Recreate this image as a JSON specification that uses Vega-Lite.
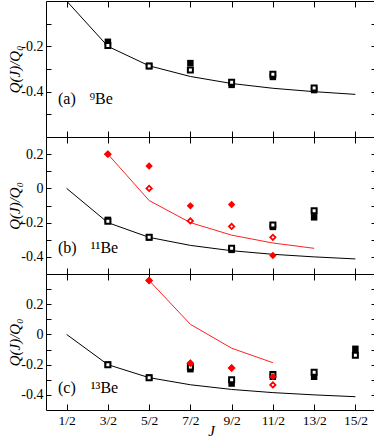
{
  "$schema": "https://vega.github.io/schema/vega-lite/v6.json",
  "padding": {"left": 7, "top": 0, "right": 1, "bottom": 0},
  "spacing": 0,
  "bounds": "flush",
  "background": "white",
  "config": {
    "font": "Liberation Serif",
    "view": {"stroke": "black", "strokeWidth": 1},
    "axis": {"grid": false, "domain": false, "labelFont": "Liberation Serif", "titleFont": "Liberation Serif", "labelColor": "black", "titleColor": "black", "tickColor": "black", "tickWidth": 1, "titleFontWeight": "normal", "minExtent": 0}
  },
  "datasets": {
    "lines": [
      {"panel": "a", "s": "k", "J": 0.5, "Q": 0.0},
      {"panel": "a", "s": "k", "J": 1.5, "Q": -0.2},
      {"panel": "a", "s": "k", "J": 2.5, "Q": -0.286},
      {"panel": "a", "s": "k", "J": 3.5, "Q": -0.333},
      {"panel": "a", "s": "k", "J": 4.5, "Q": -0.364},
      {"panel": "a", "s": "k", "J": 5.5, "Q": -0.385},
      {"panel": "a", "s": "k", "J": 6.5, "Q": -0.4},
      {"panel": "a", "s": "k", "J": 7.5, "Q": -0.412},
      {"panel": "b", "s": "k", "J": 0.5, "Q": 0.0},
      {"panel": "b", "s": "k", "J": 1.5, "Q": -0.2},
      {"panel": "b", "s": "k", "J": 2.5, "Q": -0.286},
      {"panel": "b", "s": "k", "J": 3.5, "Q": -0.333},
      {"panel": "b", "s": "k", "J": 4.5, "Q": -0.364},
      {"panel": "b", "s": "k", "J": 5.5, "Q": -0.385},
      {"panel": "b", "s": "k", "J": 6.5, "Q": -0.4},
      {"panel": "b", "s": "k", "J": 7.5, "Q": -0.412},
      {"panel": "c", "s": "k", "J": 0.5, "Q": 0.0},
      {"panel": "c", "s": "k", "J": 1.5, "Q": -0.2},
      {"panel": "c", "s": "k", "J": 2.5, "Q": -0.286},
      {"panel": "c", "s": "k", "J": 3.5, "Q": -0.333},
      {"panel": "c", "s": "k", "J": 4.5, "Q": -0.364},
      {"panel": "c", "s": "k", "J": 5.5, "Q": -0.385},
      {"panel": "c", "s": "k", "J": 6.5, "Q": -0.4},
      {"panel": "c", "s": "k", "J": 7.5, "Q": -0.412},
      {"panel": "b", "s": "r", "J": 1.5, "Q": 0.2},
      {"panel": "b", "s": "r", "J": 2.5, "Q": -0.071},
      {"panel": "b", "s": "r", "J": 3.5, "Q": -0.2},
      {"panel": "b", "s": "r", "J": 4.5, "Q": -0.273},
      {"panel": "b", "s": "r", "J": 5.5, "Q": -0.319},
      {"panel": "b", "s": "r", "J": 6.5, "Q": -0.35},
      {"panel": "c", "s": "r", "J": 2.5, "Q": 0.357},
      {"panel": "c", "s": "r", "J": 3.5, "Q": 0.067},
      {"panel": "c", "s": "r", "J": 4.5, "Q": -0.091},
      {"panel": "c", "s": "r", "J": 5.5, "Q": -0.187}
    ],
    "pts": [
      {"panel": "a", "s": "fsq", "J": 1.5, "Q": -0.18},
      {"panel": "a", "s": "fsq", "J": 2.5, "Q": -0.287},
      {"panel": "a", "s": "fsq", "J": 3.5, "Q": -0.274},
      {"panel": "a", "s": "fsq", "J": 4.5, "Q": -0.37},
      {"panel": "a", "s": "fsq", "J": 5.5, "Q": -0.335},
      {"panel": "a", "s": "fsq", "J": 6.5, "Q": -0.393},
      {"panel": "a", "s": "osq", "J": 1.5, "Q": -0.196},
      {"panel": "a", "s": "osq", "J": 2.5, "Q": -0.287},
      {"panel": "a", "s": "osq", "J": 3.5, "Q": -0.304},
      {"panel": "a", "s": "osq", "J": 4.5, "Q": -0.358},
      {"panel": "a", "s": "osq", "J": 5.5, "Q": -0.323},
      {"panel": "a", "s": "osq", "J": 6.5, "Q": -0.384},
      {"panel": "b", "s": "fsq", "J": 1.5, "Q": -0.184},
      {"panel": "b", "s": "fsq", "J": 2.5, "Q": -0.286},
      {"panel": "b", "s": "fsq", "J": 4.5, "Q": -0.359},
      {"panel": "b", "s": "fsq", "J": 5.5, "Q": -0.225},
      {"panel": "b", "s": "fsq", "J": 6.5, "Q": -0.169},
      {"panel": "b", "s": "osq", "J": 1.5, "Q": -0.192},
      {"panel": "b", "s": "osq", "J": 2.5, "Q": -0.286},
      {"panel": "b", "s": "osq", "J": 4.5, "Q": -0.349},
      {"panel": "b", "s": "osq", "J": 5.5, "Q": -0.214},
      {"panel": "b", "s": "osq", "J": 6.5, "Q": -0.131},
      {"panel": "b", "s": "odi", "J": 1.5, "Q": 0.2},
      {"panel": "b", "s": "odi", "J": 2.5, "Q": 0.0},
      {"panel": "b", "s": "odi", "J": 3.5, "Q": -0.19},
      {"panel": "b", "s": "odi", "J": 4.5, "Q": -0.222},
      {"panel": "b", "s": "odi", "J": 5.5, "Q": -0.286},
      {"panel": "b", "s": "fdi", "J": 1.5, "Q": 0.2},
      {"panel": "b", "s": "fdi", "J": 2.5, "Q": 0.131},
      {"panel": "b", "s": "fdi", "J": 3.5, "Q": -0.102},
      {"panel": "b", "s": "fdi", "J": 4.5, "Q": -0.094},
      {"panel": "b", "s": "fdi", "J": 5.5, "Q": -0.392},
      {"panel": "c", "s": "fsq", "J": 1.5, "Q": -0.2},
      {"panel": "c", "s": "fsq", "J": 2.5, "Q": -0.286},
      {"panel": "c", "s": "fsq", "J": 3.5, "Q": -0.23},
      {"panel": "c", "s": "fsq", "J": 4.5, "Q": -0.325},
      {"panel": "c", "s": "fsq", "J": 5.5, "Q": -0.28},
      {"panel": "c", "s": "fsq", "J": 6.5, "Q": -0.28},
      {"panel": "c", "s": "fsq", "J": 7.5, "Q": -0.095},
      {"panel": "c", "s": "osq", "J": 1.5, "Q": -0.2},
      {"panel": "c", "s": "osq", "J": 2.5, "Q": -0.286},
      {"panel": "c", "s": "osq", "J": 3.5, "Q": -0.215},
      {"panel": "c", "s": "osq", "J": 4.5, "Q": -0.3},
      {"panel": "c", "s": "osq", "J": 5.5, "Q": -0.265},
      {"panel": "c", "s": "osq", "J": 6.5, "Q": -0.25},
      {"panel": "c", "s": "osq", "J": 7.5, "Q": -0.137},
      {"panel": "c", "s": "odi", "J": 2.5, "Q": 0.357},
      {"panel": "c", "s": "odi", "J": 3.5, "Q": -0.19},
      {"panel": "c", "s": "odi", "J": 4.5, "Q": -0.222},
      {"panel": "c", "s": "odi", "J": 5.5, "Q": -0.334},
      {"panel": "c", "s": "fdi", "J": 2.5, "Q": 0.357},
      {"panel": "c", "s": "fdi", "J": 3.5, "Q": -0.19},
      {"panel": "c", "s": "fdi", "J": 4.5, "Q": -0.222},
      {"panel": "c", "s": "fdi", "J": 5.5, "Q": -0.279}
    ],
    "labels": [
      {"panel": "a", "tag": "(a)", "iso": "⁹Be"},
      {"panel": "b", "tag": "(b)", "iso": "¹¹Be"},
      {"panel": "c", "tag": "(c)", "iso": "¹³Be"}
    ]
  },
  "vconcat": [
    {
      "width": 330,
      "height": 136,
      "resolve": {"axis": {"x": "independent", "y": "independent"}},
      "layer": [
        {
          "data": {"name": "lines"},
          "transform": [{"filter": "datum.panel == 'a' && datum.s == 'k'"}],
          "mark": {"type": "line", "color": "black", "strokeWidth": 1, "clip": true},
          "encoding": {
            "x": {"field": "J", "type": "quantitative", "scale": {"domain": [0, 8], "nice": false, "zero": false},
                  "axis": {"orient": "bottom", "title": null, "labels": false, "values": [0.5, 1.5, 2.5, 3.5, 4.5, 5.5, 6.5, 7.5], "tickSize": -6}},
            "y": {"field": "Q", "type": "quantitative", "scale": {"domain": [-0.6, 0], "nice": false, "zero": false},
                  "axis": {"orient": "left", "title": "Q(J)/Q₀", "titleFont": "Liberation Serif", "titleFontStyle": "italic", "titleFontSize": 15, "titlePadding": -2,
                           "values": [-0.5, -0.4, -0.3, -0.2, -0.1], "tickSize": -5, "labelPadding": 8, "labelFont": "Liberation Serif", "labelFontSize": 14,
                           "labelExpr": "datum.value == 0 ? '0' : (abs(round(datum.value*10)) % 2 == 0 ? (datum.value < 0 ? '-' : '') + format(abs(datum.value), '.1f') : '')"}}
          }
        },
        {
          "data": {"name": "pts"},
          "transform": [{"filter": "datum.panel == 'a' && datum.s == 'fsq'"}],
          "mark": {"type": "point", "shape": "square", "filled": true, "color": "black", "size": 42, "opacity": 1},
          "encoding": {
            "x": {"field": "J", "type": "quantitative",
                  "axis": {"orient": "top", "title": null, "labels": false, "values": [0.5, 1.5, 2.5, 3.5, 4.5, 5.5, 6.5, 7.5], "tickSize": -6}},
            "y": {"field": "Q", "type": "quantitative",
                  "axis": {"orient": "right", "title": null, "labels": false, "values": [-0.5, -0.4, -0.3, -0.2, -0.1], "tickSize": -5}}
          }
        },
        {
          "data": {"name": "pts"},
          "transform": [{"filter": "datum.panel == 'a' && datum.s == 'osq'"}],
          "mark": {"type": "point", "shape": "square", "filled": true, "fill": "white", "stroke": "black", "strokeWidth": 2, "size": 25, "opacity": 1},
          "encoding": {
            "x": {"field": "J", "type": "quantitative", "axis": null},
            "y": {"field": "Q", "type": "quantitative", "axis": null}
          }
        },
        {
          "data": {"name": "labels"},
          "transform": [{"filter": "datum.panel == 'a'"}],
          "mark": {"type": "text", "align": "left", "baseline": "alphabetic", "fontSize": 16, "color": "black", "font": "Liberation Serif"},
          "encoding": {
            "x": {"datum": 0.29, "type": "quantitative", "axis": null},
            "y": {"datum": -0.456, "type": "quantitative", "axis": null},
            "text": {"field": "tag"}
          }
        },
        {
          "data": {"name": "labels"},
          "transform": [{"filter": "datum.panel == 'a'"}],
          "mark": {"type": "text", "align": "right", "baseline": "alphabetic", "fontSize": 16, "color": "black", "font": "Liberation Serif"},
          "encoding": {
            "x": {"datum": 1.62, "type": "quantitative", "axis": null},
            "y": {"datum": -0.456, "type": "quantitative", "axis": null},
            "text": {"field": "iso"}
          }
        }
      ]
    },
    {
      "width": 330,
      "height": 137,
      "resolve": {"axis": {"x": "independent", "y": "independent"}},
      "layer": [
        {
          "data": {"name": "lines"},
          "transform": [{"filter": "datum.panel == 'b' && datum.s == 'k'"}],
          "mark": {"type": "line", "color": "black", "strokeWidth": 1},
          "encoding": {
            "x": {"field": "J", "type": "quantitative", "scale": {"domain": [0, 8], "nice": false, "zero": false},
                  "axis": {"orient": "bottom", "title": null, "labels": false, "values": [0.5, 1.5, 2.5, 3.5, 4.5, 5.5, 6.5, 7.5], "tickSize": -6}},
            "y": {"field": "Q", "type": "quantitative", "scale": {"domain": [-0.5, 0.3], "nice": false, "zero": false},
                  "axis": {"orient": "left", "title": "Q(J)/Q₀", "titleFont": "Liberation Serif", "titleFontStyle": "italic", "titleFontSize": 15, "titlePadding": -2,
                           "values": [-0.4, -0.3, -0.2, -0.1, 0, 0.1, 0.2], "tickSize": -5, "labelPadding": 8, "labelFont": "Liberation Serif", "labelFontSize": 14,
                           "labelExpr": "datum.value == 0 ? '0' : (abs(round(datum.value*10)) % 2 == 0 ? (datum.value < 0 ? '-' : '') + format(abs(datum.value), '.1f') : '')"}}
          }
        },
        {
          "mark": {"type": "rule", "color": "#808080", "strokeWidth": 1.5},
          "encoding": {"y": {"datum": 0, "type": "quantitative", "axis": null}}
        },
        {
          "data": {"name": "lines"},
          "transform": [{"filter": "datum.panel == 'b' && datum.s == 'r'"}],
          "mark": {"type": "line", "color": "#ff2020", "strokeWidth": 1},
          "encoding": {
            "x": {"field": "J", "type": "quantitative", "axis": null},
            "y": {"field": "Q", "type": "quantitative", "axis": null}
          }
        },
        {
          "data": {"name": "pts"},
          "transform": [{"filter": "datum.panel == 'b' && datum.s == 'fsq'"}],
          "mark": {"type": "point", "shape": "square", "filled": true, "color": "black", "size": 42, "opacity": 1},
          "encoding": {
            "x": {"field": "J", "type": "quantitative",
                  "axis": {"orient": "top", "title": null, "labels": false, "values": [0.5, 1.5, 2.5, 3.5, 4.5, 5.5, 6.5, 7.5], "tickSize": -6}},
            "y": {"field": "Q", "type": "quantitative",
                  "axis": {"orient": "right", "title": null, "labels": false, "values": [-0.4, -0.3, -0.2, -0.1, 0, 0.1, 0.2], "tickSize": -5}}
          }
        },
        {
          "data": {"name": "pts"},
          "transform": [{"filter": "datum.panel == 'b' && datum.s == 'osq'"}],
          "mark": {"type": "point", "shape": "square", "filled": true, "fill": "white", "stroke": "black", "strokeWidth": 2, "size": 25, "opacity": 1},
          "encoding": {
            "x": {"field": "J", "type": "quantitative", "axis": null},
            "y": {"field": "Q", "type": "quantitative", "axis": null}
          }
        },
        {
          "data": {"name": "pts"},
          "transform": [{"filter": "datum.panel == 'b' && datum.s == 'odi'"}],
          "mark": {"type": "point", "shape": "diamond", "filled": true, "fill": "white", "stroke": "red", "strokeWidth": 1.8, "size": 28, "opacity": 1},
          "encoding": {
            "x": {"field": "J", "type": "quantitative", "axis": null},
            "y": {"field": "Q", "type": "quantitative", "axis": null}
          }
        },
        {
          "data": {"name": "pts"},
          "transform": [{"filter": "datum.panel == 'b' && datum.s == 'fdi'"}],
          "mark": {"type": "point", "shape": "diamond", "filled": true, "color": "red", "size": 55, "opacity": 1},
          "encoding": {
            "x": {"field": "J", "type": "quantitative", "axis": null},
            "y": {"field": "Q", "type": "quantitative", "axis": null}
          }
        },
        {
          "data": {"name": "labels"},
          "transform": [{"filter": "datum.panel == 'b'"}],
          "mark": {"type": "text", "align": "left", "baseline": "alphabetic", "fontSize": 16, "color": "black", "font": "Liberation Serif"},
          "encoding": {
            "x": {"datum": 0.29, "type": "quantitative", "axis": null},
            "y": {"datum": -0.38, "type": "quantitative", "axis": null},
            "text": {"field": "tag"}
          }
        },
        {
          "data": {"name": "labels"},
          "transform": [{"filter": "datum.panel == 'b'"}],
          "mark": {"type": "text", "align": "right", "baseline": "alphabetic", "fontSize": 16, "color": "black", "font": "Liberation Serif"},
          "encoding": {
            "x": {"datum": 1.75, "type": "quantitative", "axis": null},
            "y": {"datum": -0.38, "type": "quantitative", "axis": null},
            "text": {"field": "iso"}
          }
        }
      ]
    },
    {
      "width": 330,
      "height": 136,
      "resolve": {"axis": {"x": "independent", "y": "independent"}},
      "layer": [
        {
          "data": {"name": "lines"},
          "transform": [{"filter": "datum.panel == 'c' && datum.s == 'k'"}],
          "mark": {"type": "line", "color": "black", "strokeWidth": 1},
          "encoding": {
            "x": {"field": "J", "type": "quantitative", "scale": {"domain": [0, 8], "nice": false, "zero": false},
                  "axis": {"orient": "bottom", "title": "J", "titleFont": "Liberation Serif", "titleFontStyle": "italic", "titleFontSize": 15, "titlePadding": -3,
                           "values": [0.5, 1.5, 2.5, 3.5, 4.5, 5.5, 6.5, 7.5], "tickSize": -6, "labelPadding": 9, "labelFont": "Liberation Serif", "labelFontSize": 13.5,
                           "labelExpr": "format(datum.value*2, 'd') + '/2'"}},
            "y": {"field": "Q", "type": "quantitative", "scale": {"domain": [-0.5, 0.4], "nice": false, "zero": false},
                  "axis": {"orient": "left", "title": "Q(J)/Q₀", "titleFont": "Liberation Serif", "titleFontStyle": "italic", "titleFontSize": 15, "titlePadding": -2,
                           "values": [-0.4, -0.3, -0.2, -0.1, 0, 0.1, 0.2, 0.3], "tickSize": -5, "labelPadding": 8, "labelFont": "Liberation Serif", "labelFontSize": 14,
                           "labelExpr": "datum.value == 0 ? '0' : (abs(round(datum.value*10)) % 2 == 0 ? (datum.value < 0 ? '-' : '') + format(abs(datum.value), '.1f') : '')"}}
          }
        },
        {
          "mark": {"type": "rule", "color": "#808080", "strokeWidth": 1.5},
          "encoding": {"y": {"datum": 0, "type": "quantitative", "axis": null}}
        },
        {
          "data": {"name": "lines"},
          "transform": [{"filter": "datum.panel == 'c' && datum.s == 'r'"}],
          "mark": {"type": "line", "color": "#ff2020", "strokeWidth": 1},
          "encoding": {
            "x": {"field": "J", "type": "quantitative", "axis": null},
            "y": {"field": "Q", "type": "quantitative", "axis": null}
          }
        },
        {
          "data": {"name": "pts"},
          "transform": [{"filter": "datum.panel == 'c' && datum.s == 'fsq'"}],
          "mark": {"type": "point", "shape": "square", "filled": true, "color": "black", "size": 42, "opacity": 1},
          "encoding": {
            "x": {"field": "J", "type": "quantitative",
                  "axis": {"orient": "top", "title": null, "labels": false, "values": [0.5, 1.5, 2.5, 3.5, 4.5, 5.5, 6.5, 7.5], "tickSize": -6}},
            "y": {"field": "Q", "type": "quantitative",
                  "axis": {"orient": "right", "title": null, "labels": false, "values": [-0.4, -0.3, -0.2, -0.1, 0, 0.1, 0.2, 0.3], "tickSize": -5}}
          }
        },
        {
          "data": {"name": "pts"},
          "transform": [{"filter": "datum.panel == 'c' && datum.s == 'osq'"}],
          "mark": {"type": "point", "shape": "square", "filled": true, "fill": "white", "stroke": "black", "strokeWidth": 2, "size": 25, "opacity": 1},
          "encoding": {
            "x": {"field": "J", "type": "quantitative", "axis": null},
            "y": {"field": "Q", "type": "quantitative", "axis": null}
          }
        },
        {
          "data": {"name": "pts"},
          "transform": [{"filter": "datum.panel == 'c' && datum.s == 'odi'"}],
          "mark": {"type": "point", "shape": "diamond", "filled": true, "fill": "white", "stroke": "red", "strokeWidth": 1.8, "size": 28, "opacity": 1},
          "encoding": {
            "x": {"field": "J", "type": "quantitative", "axis": null},
            "y": {"field": "Q", "type": "quantitative", "axis": null}
          }
        },
        {
          "data": {"name": "pts"},
          "transform": [{"filter": "datum.panel == 'c' && datum.s == 'fdi'"}],
          "mark": {"type": "point", "shape": "diamond", "filled": true, "color": "red", "size": 55, "opacity": 1},
          "encoding": {
            "x": {"field": "J", "type": "quantitative", "axis": null},
            "y": {"field": "Q", "type": "quantitative", "axis": null}
          }
        },
        {
          "data": {"name": "labels"},
          "transform": [{"filter": "datum.panel == 'c'"}],
          "mark": {"type": "text", "align": "left", "baseline": "alphabetic", "fontSize": 16, "color": "black", "font": "Liberation Serif"},
          "encoding": {
            "x": {"datum": 0.29, "type": "quantitative", "axis": null},
            "y": {"datum": -0.389, "type": "quantitative", "axis": null},
            "text": {"field": "tag"}
          }
        },
        {
          "data": {"name": "labels"},
          "transform": [{"filter": "datum.panel == 'c'"}],
          "mark": {"type": "text", "align": "right", "baseline": "alphabetic", "fontSize": 16, "color": "black", "font": "Liberation Serif"},
          "encoding": {
            "x": {"datum": 1.75, "type": "quantitative", "axis": null},
            "y": {"datum": -0.389, "type": "quantitative", "axis": null},
            "text": {"field": "iso"}
          }
        }
      ]
    }
  ]
}
